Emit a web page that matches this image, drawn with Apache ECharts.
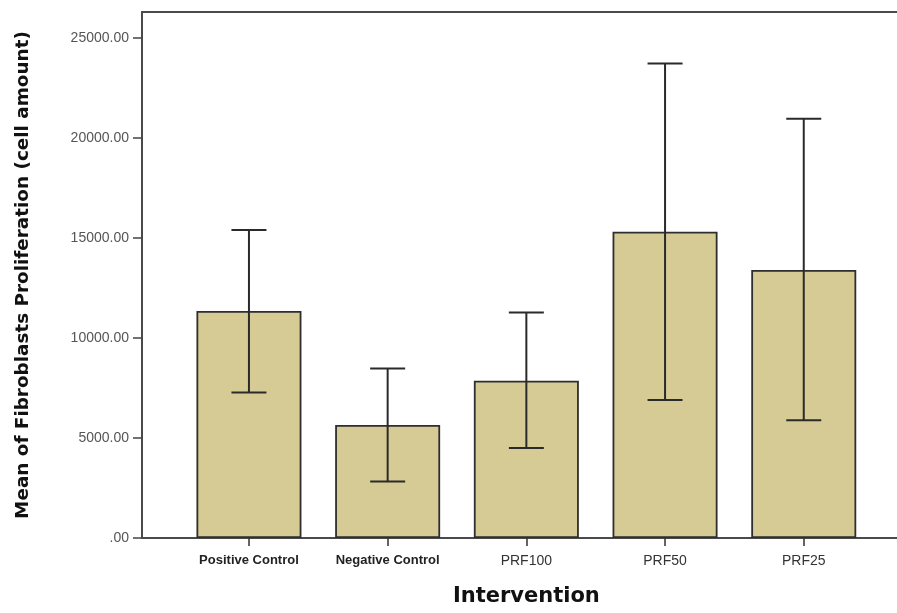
<!DOCTYPE html>
<html>
<head>
<meta charset="utf-8">
<script src="https://cdn.jsdelivr.net/npm/echarts@6/dist/echarts.min.js"></script>
<style>
html,body{margin:0;padding:0;background:#fff;}
#main{width:897px;height:613px;}
</style>
</head>
<body>
<div id="main"></div>
<script>
var categories = ['Positive Control', 'Negative Control', 'PRF100', 'PRF50', 'PRF25'];
var means = [11350, 5650, 7860, 15315, 13405];
var errUpper = [15400, 8480, 11275, 23730, 20960];
var errLower = [7270, 2820, 4500, 6900, 5885];
var yTicks = [0, 5000, 10000, 15000, 20000, 25000];

var chart = echarts.init(document.getElementById('main'));

var errData = categories.map(function (c, i) { return [i, errLower[i], errUpper[i]]; });
var frameLine = { show: true, lineStyle: { color: '#4a4a4a', width: 2 } };

chart.setOption({
  backgroundColor: '#ffffff',
  animation: false,
  grid: [
    { left: 142, top: 12, right: -60, bottom: 75 },
    { left: 179.6, top: 38, width: 693.5, bottom: 75 }
  ],
  xAxis: [
    { gridIndex: 0, type: 'value', min: 0, max: 1, position: 'bottom', axisLine: frameLine, axisTick: { show: false }, axisLabel: { show: false }, splitLine: { show: false } },
    {
      gridIndex: 1, type: 'category', data: categories,
      axisLine: { show: false },
      axisTick: { show: true, alignWithLabel: true, length: 8, lineStyle: { color: '#333', width: 1.5 } },
      axisLabel: {
        margin: 16, interval: 0,
        formatter: function (v, i) { return i < 2 ? '{b|' + v + '}' : '{r|' + v + '}'; },
        rich: {
          b: { fontFamily: 'Liberation Sans, Arial', fontWeight: 'bold', fontSize: 13, color: '#222' },
          r: { fontFamily: 'Liberation Sans, Arial', fontSize: 14, color: '#333' }
        }
      },
      name: 'Intervention', nameLocation: 'middle', nameGap: 48,
      nameTextStyle: { fontFamily: 'DejaVu Sans', fontWeight: 'bold', fontSize: 21, color: '#111' }
    },
    { gridIndex: 0, type: 'value', min: 0, max: 1, position: 'top', axisLine: frameLine, axisTick: { show: false }, axisLabel: { show: false }, splitLine: { show: false } }
  ],
  yAxis: [
    {
      gridIndex: 0, type: 'value', min: 0, max: 1, axisLine: frameLine, axisTick: { show: false }, axisLabel: { show: false }, splitLine: { show: false },
      name: 'Mean of Fibroblasts Proliferation (cell amount)', nameLocation: 'middle', nameGap: 110,
      nameTextStyle: { fontFamily: 'DejaVu Sans', fontWeight: 'bold', fontSize: 18.4, color: '#111' }
    },
    {
      gridIndex: 1, type: 'value', min: yTicks[0], max: yTicks[yTicks.length - 1], interval: 5000,
      offset: 37.6,
      axisLine: { show: false },
      splitLine: { show: false },
      axisTick: { show: true, length: 9, lineStyle: { color: '#444', width: 1.5 } },
      axisLabel: {
        margin: 13, fontFamily: 'Liberation Sans, Arial', fontSize: 14, color: '#555',
        formatter: function (v) { return v === 0 ? '.00' : v.toFixed(2); }
      }
    }
  ],
  series: [
    {
      type: 'bar', xAxisIndex: 1, yAxisIndex: 1, data: means, barWidth: 105,
      itemStyle: { color: '#d7cb95', borderColor: '#2e2e2e', borderWidth: 1.8 }
    },
    {
      type: 'custom', xAxisIndex: 1, yAxisIndex: 1, data: errData, z: 10,
      renderItem: function (params, api) {
        var x = api.value(0);
        var lo = api.coord([x, api.value(1)]);
        var hi = api.coord([x, api.value(2)]);
        var hw = 17.5;
        var st = { stroke: '#2a2a2a', lineWidth: 2 };
        return {
          type: 'group',
          children: [
            { type: 'line', shape: { x1: hi[0], y1: hi[1], x2: lo[0], y2: lo[1] }, style: st },
            { type: 'line', shape: { x1: hi[0] - hw, y1: hi[1], x2: hi[0] + hw, y2: hi[1] }, style: st },
            { type: 'line', shape: { x1: lo[0] - hw, y1: lo[1], x2: lo[0] + hw, y2: lo[1] }, style: st }
          ]
        };
      }
    }
  ]
});
</script>
</body>
</html>
